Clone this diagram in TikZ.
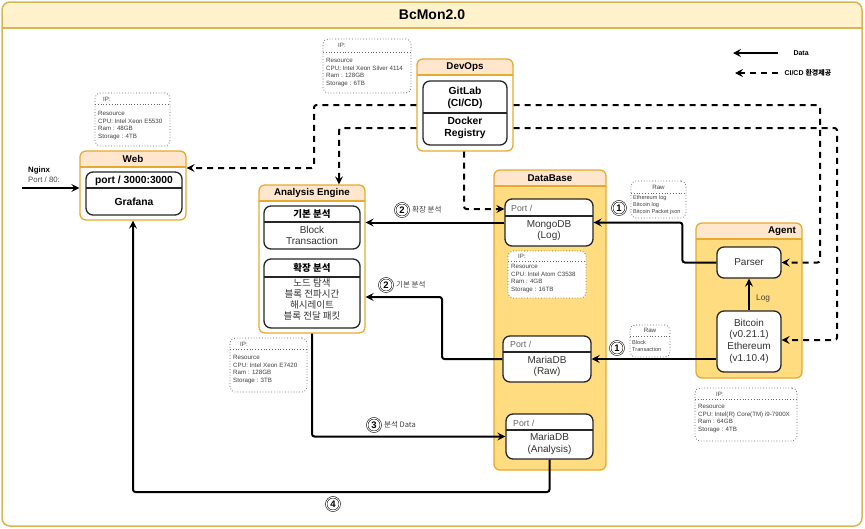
\documentclass[tikz,border=0pt]{standalone}
\usepackage{fontspec}
\setmainfont{Liberation Sans}
\newfontfamily\kr{Noto Sans CJK KR}
\usetikzlibrary{arrows.meta,fit,calc}
\definecolor{gold}{HTML}{D6B656}
\definecolor{titlefill}{HTML}{FFF2CC}
\definecolor{hdrfill}{HTML}{FFE6CC}
\definecolor{boxstroke}{HTML}{E6AA30}
\definecolor{bodyfill}{HTML}{FFDC80}
\newcommand\swimlane[7]{% name,x1,y1,x2,y2,yh,bodyfill
  \fill[#7, rounded corners=6pt] (#2,#3) rectangle (#4,#5);
  \fill[hdrfill, rounded corners=6pt] (#2,#3) rectangle (#4,#6);
  \fill[hdrfill] (#2,#6-7) rectangle (#4,#6);
  \draw[boxstroke, line width=1.2pt] (#2,#6) -- (#4,#6);
  \node[cont, fit={(#2,#3) (#4,#5)}] (#1) {};
}
\newcommand\splitbox[6]{% name,x1,y1,x2,y2,ydiv
  \node[inbox, fit={(#2,#3) (#4,#5)}] (#1) {};
  \draw[black!85, line width=1.2pt] (#2,#6) -- (#4,#6);
}
\newcommand\infobox[6]{% name,x1,y1,x2,y2,ydiv
  \node[ipbox, fit={(#2,#3) (#4,#5)}] (#1) {};
  \draw[black!60, dotted, line width=0.8pt] (#2,#6) -- (#4,#6);
}
\begin{document}
\begin{tikzpicture}[x=1pt,y=-1pt,
  data/.style={line width=2pt, -{Stealth[length=8pt,width=8pt,inset=3pt]}, rounded corners=2.5pt},
  cicd/.style={data, dash pattern=on 6pt off 5pt},
  cont/.style={draw=boxstroke, line width=1.3pt, rounded corners=6pt, inner sep=0pt},
  inbox/.style={draw=black!85, line width=1.3pt, rounded corners=7pt, fill=white, inner sep=0pt},
  ipbox/.style={draw=black!60, dotted, line width=0.8pt, rounded corners=5pt, inner sep=0pt},
  hd/.style={font=\bfseries\fontsize{9.8}{11}\selectfont, inner sep=0pt},
  bhd/.style={font=\bfseries\fontsize{10.3}{12.2}\selectfont, align=center, inner sep=0pt},
  txt/.style={font=\fontsize{10}{11.5}\selectfont, align=center, text=black!80, inner sep=0pt},
  tiny/.style={font=\fontsize{6.2}{7.4}\selectfont, align=left, text=black!75, inner sep=0pt, anchor=north west},
  porttxt/.style={font=\fontsize{8.8}{10}\selectfont, text=black!60, anchor=west, inner sep=0pt},
  num/.style={circle, draw, double, double distance=0.9pt, line width=0.55pt, inner sep=0.3pt, minimum size=13.5pt, font=\bfseries\fontsize{9.5}{9.5}\selectfont},
  lbl/.style={font=\kr\fontsize{7.5}{8}\selectfont, text=black!75, anchor=west, inner sep=0pt}
]
\useasboundingbox (0,0) rectangle (865,528);
\fill[white] (0,0) rectangle (865,528);
% outer container
\fill[titlefill, rounded corners=8pt] (2,2) rectangle (862,28);
\fill[titlefill] (2,20) rectangle (862,28);
\draw[gold, line width=1.5pt] (2,28) -- (862,28);
\node[draw=gold, line width=1.5pt, rounded corners=8pt, inner sep=0pt, fit={(2,2) (862,526)}] (main) {};
\node[font=\bfseries\fontsize{14}{14}\selectfont] (title) at (432,15) {BcMon2.0};

% legend
\coordinate (lga) at (778,53); \coordinate (lgb) at (733,53);
\draw[data] (lga) -- (lgb);
\node[font=\bfseries\fontsize{7}{8}\selectfont, anchor=west] (lgdata) at (790,53) {Data};
\coordinate (lgc) at (778,73); \coordinate (lgd) at (735,73);
\draw[cicd] (lgc) -- (lgd);
\node[font=\bfseries\fontsize{7}{8}\selectfont, anchor=west] (lgci) at (781,73) {CI/CD {\kr 환경제공}};

% DevOps
\swimlane{devops}{417}{59}{513}{151}{75}{white}
\node[hd] (devopst) at (465,67) {DevOps};
\splitbox{gitlab}{423}{81}{507}{145}{113}
\node[bhd] (gitlabt) at (465,98) {GitLab\\(CI/CD)};
\node[bhd] (dockert) at (465,128) {Docker\\Registry};
\infobox{devip}{323}{39}{411}{93}{52}
\node[tiny, anchor=west] (devipt) at (338,45) {IP:};
\node[tiny] (devres) at (326,58.5) {Resource\\CPU: Intel Xeon Silver 4114\\Ram : 128GB\\Storage : 6TB};

% Web
\swimlane{web}{80}{151}{186}{220}{167}{white}
\node[hd] (webt) at (133,159) {Web};
\splitbox{grafana}{86}{172}{182}{215}{188}
\node[bhd] (portt) at (134,180.5) {port / 3000:3000};
\node[bhd] (grafanat) at (134,201.5) {Grafana};
\infobox{webip}{95}{93}{170}{146}{104}
\node[tiny, anchor=west] (webipt) at (103,99) {IP:};
\node[tiny] (webres) at (98,111.5) {Resource\\CPU: Intel Xeon E5530\\Ram : 48GB\\Storage : 4TB};
\node[font=\bfseries\fontsize{7.8}{8}\selectfont, anchor=west, inner sep=0pt] (nginx) at (28,170) {Nginx};
\node[font=\fontsize{7.8}{8}\selectfont, text=black!70, anchor=west, inner sep=0pt] (nginxp) at (28,179.5) {Port / 80:};
\coordinate (nginxin) at (22,188);
\draw[data] (nginxin) -- (nginxin -| web.west);

% Analysis Engine
\swimlane{analysis}{259}{185}{365}{333}{201}{white}
\node[hd] (analysist) at (312,193) {Analysis Engine};
\splitbox{basic}{264}{206}{360}{249}{222}
\node[hd, font=\kr\bfseries\fontsize{9.5}{11}\selectfont] (basict) at (312,214) {기본 분석};
\node[txt] (basicb) at (312,235.5) {Block\\Transaction};
\splitbox{ext}{264}{259}{360}{328}{277}
\node[hd, font=\kr\bfseries\fontsize{9.5}{11}\selectfont] (extt) at (312,268) {확장 분석};
\node[txt, font=\kr\fontsize{9.5}{11.2}\selectfont] (extb) at (312,299.5) {노드 탐색\\블록 전파시간\\해시레이트\\블록 전달 패킷};
\infobox{anip}{230}{338}{307}{392}{349}
\node[tiny, anchor=west] (anipt) at (240,344) {IP:};
\node[tiny] (anres) at (233,355.5) {Resource\\CPU: Intel Xeon E7420\\Ram : 128GB\\Storage : 3TB};

% DataBase
\swimlane{db}{494}{170}{606}{470}{186}{bodyfill}
\node[hd] (dbt) at (550,178) {DataBase};
\splitbox{mongo}{505}{199}{593}{246}{216}
\node[porttxt] (mongop) at (511,208) {Port /};
\node[txt] (mongot) at (549,230.5) {MongoDB\\(Log)};
\fill[white, rounded corners=5pt] (508,251) rectangle (586,298);
\infobox{dbip}{508}{251}{586}{298}{261}
\node[tiny, anchor=west] (dbipt) at (518,256) {IP:};
\node[tiny] (dbres) at (511,264.5) {Resource\\CPU: Intel Atom C3538\\Ram : 4GB\\Storage : 16TB};
\splitbox{mariaraw}{503}{336}{591}{382}{352}
\node[porttxt] (rawp) at (510,344) {Port /};
\node[txt] (rawt) at (547,366.5) {MariaDB\\(Raw)};
\splitbox{mariaan}{506}{414}{593}{459}{430}
\node[porttxt] (anp) at (513,423) {Port /};
\node[txt] (ant) at (549.5,444) {MariaDB\\(Analysis)};

% Agent
\swimlane{agent}{696}{223}{802}{378}{239}{bodyfill}
\node[hd, anchor=east] (agentt) at (796,231) {Agent};
\node[inbox, fit={(717,247) (781,278)}] (parser) {};
\node[txt] (parsert) at (749,262.5) {Parser};
\node[inbox, fit={(717,311) (781,372)}] (bitcoin) {};
\node[txt, font=\fontsize{10}{11.7}\selectfont] (bitcoint) at (749,341) {Bitcoin\\(v0.21.1)\\Ethereum\\(v1.10.4)};
\infobox{agip}{695}{388}{797}{441}{399}
\node[tiny, anchor=west] (agipt) at (716,394) {IP:};
\node[tiny] (agres) at (698,404.5) {Resource\\CPU: Intel(R) Core(TM) i9-7900X\\Ram : 64GB\\Storage : 4TB};

% Raw notes
\infobox{raw1}{631}{181}{686}{218}{193}
\node[font=\fontsize{6.2}{7}\selectfont, text=black!75, inner sep=0pt] (raw1t) at (658.5,187.5) {Raw};
\node[tiny, font=\fontsize{5.6}{7}\selectfont] (raw1b) at (633,195) {Ethereum log\\Bitcoin log\\Bitcoin Packet json};
\infobox{raw2}{630}{325}{670}{357}{336}
\node[font=\fontsize{6.2}{7}\selectfont, text=black!75, inner sep=0pt] (raw2t) at (650,330.5) {Raw};
\node[tiny, font=\fontsize{5.6}{7.5}\selectfont] (raw2b) at (632,340) {Block\\Transaction};

% data connectors
\draw[data] (bitcoin.north) -- (parser.south);
\node[font=\fontsize{8.3}{9}\selectfont, text=black!75, anchor=west, inner sep=0pt] (logl) at (756,298) {Log};
\draw[data] (parser.west) -- ++(-34,0) |- (mongo.east);
\draw[data] (bitcoin.west |- mariaraw.east) -- (mariaraw.east);
\draw[data] (mongo.west) -- (mongo.west -| analysis.east);
\draw[data] (mariaraw.west) -- (442,359) |- (analysis.east |- 0,297);
\draw[data] (analysis.south -| 312,0) |- (mariaan.west);
\draw[data] (mariaan.south) -- (mariaan.south |- 0,492) -| (web.south -| 133,0);

% CI/CD connectors
\draw[cicd] (devops.west |- 0,105) -- (314,105) |- (web.east |- 0,168);
\draw[cicd] (devops.west |- 0,128) -| (analysis.north -| 339,0);
\draw[cicd] (devops.south -| 464,0) |- (mongo.west |- 0,209);
\draw[cicd] (devops.east |- 0,105) -- (820,105) |- (parser.east);
\draw[cicd] (devops.east |- 0,128) -- (837,128) |- (bitcoin.east |- 0,340);

% step labels
\node[num] (n1a) at (619,208) {1};
\node[num] (n1b) at (617,348) {1};
\node[num] (n2a) at (402,210) {2};
\node[lbl] (n2at) at (412,210) {확장 분석};
\node[num] (n2b) at (386,285) {2};
\node[lbl] (n2bt) at (396,285) {기본 분석};
\node[num] (n3) at (374,425) {3};
\node[lbl] (n3t) at (384,425) {분석 Data};
\node[num] (n4) at (333,504) {4};
\end{tikzpicture}
\end{document}
